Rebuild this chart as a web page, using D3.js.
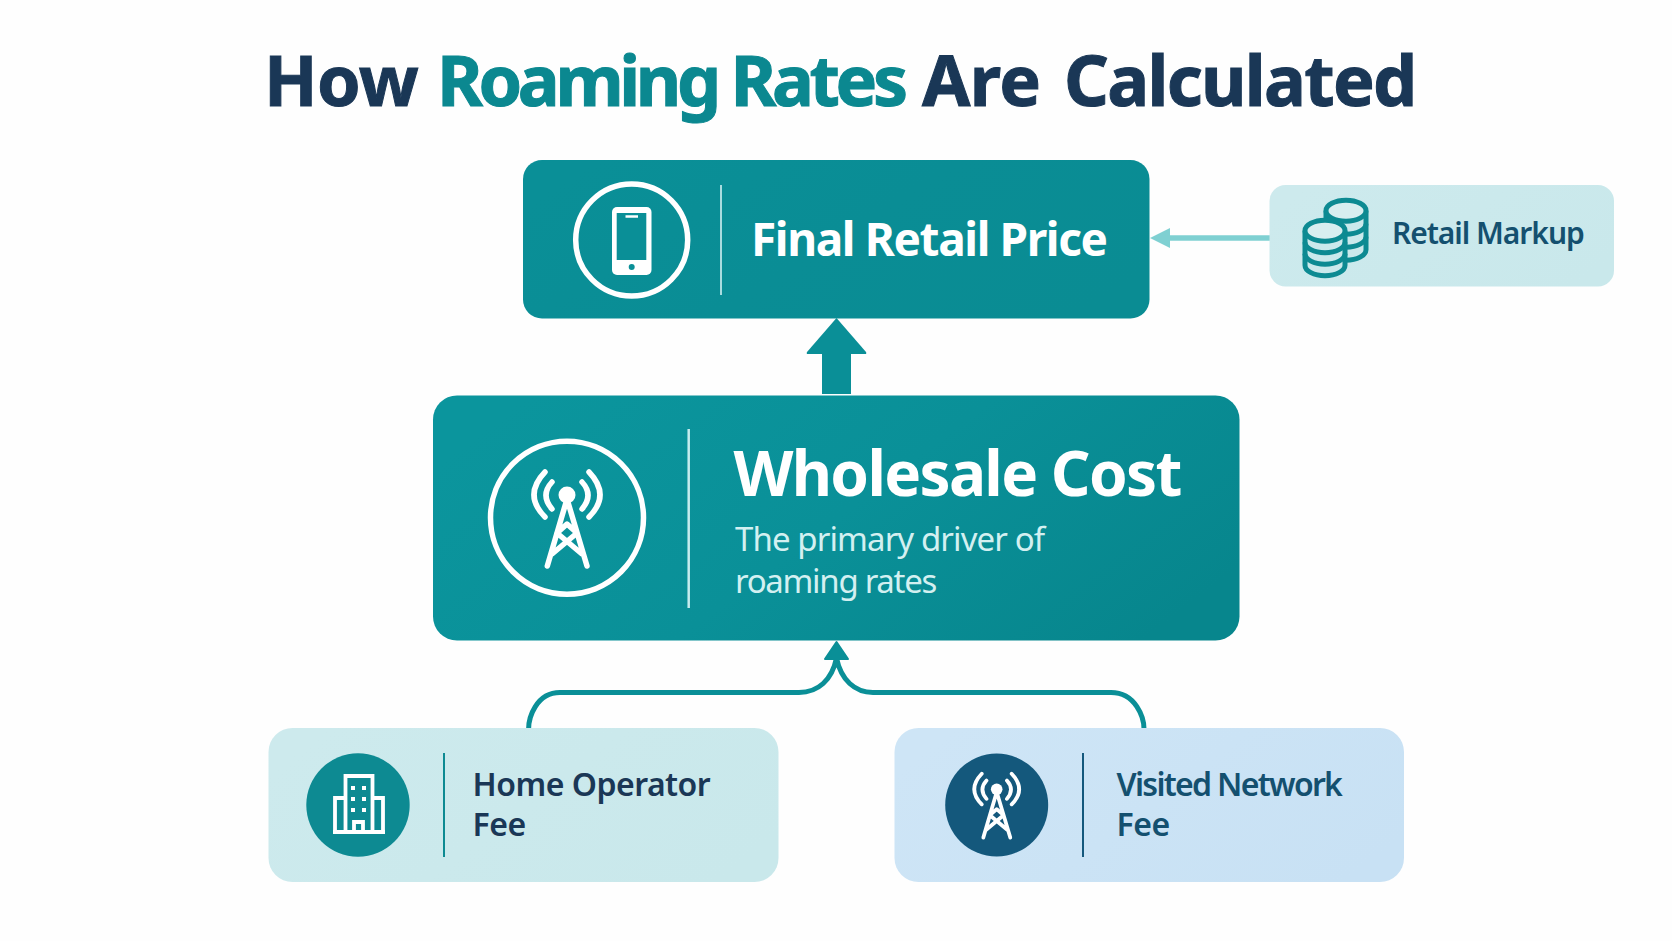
<!DOCTYPE html>
<html>
<head>
<meta charset="utf-8">
<title>How Roaming Rates Are Calculated</title>
<script src="https://cdn.jsdelivr.net/npm/d3@7/dist/d3.min.js"></script>
<style>
  html, body { margin: 0; padding: 0; background: #fefefe; }
  svg { display: block; }
  text { font-family: "Noto Sans", sans-serif; }
</style>
</head>
<body>
<svg id="chart" width="1672" height="941"></svg>
<script>
// Texts
const TITLE_PARTS = ['How', 'Roaming Rates', 'Are', 'Calculated'];
const FINAL_LABEL = ['Final Retail Price'];
const WHOLESALE_LABEL = ['Wholesale Cost'];
const WHOLESALE_NOTE = ['The primary driver of', 'roaming rates'];
const MARKUP_LABEL = ['Retail Markup'];
const HOME_LABEL = ['Home Operator', 'Fee'];
const VISITED_LABEL = ['Visited Network', 'Fee'];

const TEAL = '#0a8f97', TEAL_LIGHT = '#cbe9ec', BLUE_LIGHT = '#cbe3f5';
const NAVY = '#1a3756', DEEP = '#14587c', INK = '#14506f', ARROW_LIGHT = '#7fd0d2';

const svg = d3.select('#chart');
const defs = svg.append('defs');

function gradient(id, stops) {
  const g = defs.append('linearGradient').attr('id', id)
    .attr('x1', 0).attr('y1', 0.3).attr('x2', 1).attr('y2', 0.7);
  stops.forEach((c, i) => g.append('stop')
    .attr('offset', i / (stops.length - 1)).attr('stop-color', c));
}
gradient('boxFinal', ['#0a8f97', '#0a8d95', '#0a8c93']);
gradient('boxWhole', ['#0b959d', '#0a9098', '#07868d']);
gradient('boxMint', ['#cdeaed', '#c9e8eb']);
gradient('boxBlue', ['#cee5f6', '#c8e1f4']);

function box(x0, y0, x1, y1, r, fill) {
  svg.append('rect').attr('x', x0).attr('y', y0)
    .attr('width', x1 - x0).attr('height', y1 - y0)
    .attr('rx', r).attr('fill', fill);
}

function divider(x, y0, y1, color, w) {
  svg.append('line').attr('x1', x).attr('x2', x).attr('y1', y0).attr('y2', y1)
    .attr('stroke', color).attr('stroke-width', w);
}

function lines(list, x, baselines, size, weight, color, spacing) {
  svg.selectAll(null).data(list).enter().append('text')
    .attr('x', x).attr('y', (d, i) => baselines[i])
    .attr('font-size', size).attr('font-weight', weight)
    .attr('letter-spacing', (d, i) => Array.isArray(spacing) ? spacing[i] : spacing)
    .attr('fill', color).text(d => d);
}

// Title
const TITLE_X = [264, 437, 922, 1064];
const TITLE_COLOR = [NAVY, '#0b8890', NAVY, NAVY];
const TITLE_SPACING = [-0.6, -4.4, -0.6, -1.7];
svg.selectAll(null).data(TITLE_PARTS).enter().append('text')
  .attr('x', (d, i) => TITLE_X[i]).attr('y', 106)
  .attr('font-size', 70).attr('font-weight', 700)
  .attr('letter-spacing', (d, i) => TITLE_SPACING[i])
  .attr('stroke', (d, i) => TITLE_COLOR[i]).attr('stroke-width', 1)
  .attr('fill', (d, i) => TITLE_COLOR[i]).text(d => d);

// Arrows first, boxes sit on top of their ends
const arrows = svg.append('g');
arrows.append('rect').attr('x', 822).attr('y', 350).attr('width', 29).attr('height', 44).attr('fill', TEAL);
arrows.append('path').attr('d', 'M836.5,318 L866,352 Q867,354 865,354 L808,354 Q806,354 807,352 Z').attr('fill', TEAL);

arrows.append('line').attr('x1', 1270).attr('x2', 1165).attr('y1', 238).attr('y2', 238)
  .attr('stroke', ARROW_LIGHT).attr('stroke-width', 5.5);
arrows.append('path').attr('d', 'M1150,238 L1170,228 L1170,248 Z').attr('fill', ARROW_LIGHT);

const link = d3.path();
link.moveTo(528.6, 729);
link.bezierCurveTo(528.6, 718, 536, 692.5, 560, 692.5);
link.lineTo(799, 692.5);
link.bezierCurveTo(818, 692.5, 832, 680, 836.5, 658);
link.bezierCurveTo(841, 680, 855, 692.5, 873, 692.5);
link.lineTo(1111, 692.5);
link.bezierCurveTo(1136, 692.5, 1144, 718, 1144, 729);
arrows.append('path').attr('d', link.toString()).attr('fill', 'none')
  .attr('stroke', TEAL).attr('stroke-width', 5);
arrows.append('path').attr('d', 'M836.5,642 L848,659 L825,659 Z').attr('fill', TEAL)
  .attr('stroke', TEAL).attr('stroke-width', 2).attr('stroke-linejoin', 'round');

// Boxes
box(523, 160, 1149.5, 318.5, 19, 'url(#boxFinal)');
box(433, 395.5, 1239.5, 640.5, 24, 'url(#boxWhole)');
box(1269.5, 185, 1614, 286.5, 16, 'url(#boxMint)');
box(268.5, 728, 778.5, 882, 24, 'url(#boxMint)');
box(894.5, 728, 1404, 882, 24, 'url(#boxBlue)');

function tower(cx, cy, k, color) {
  const g = svg.append('g').attr('transform', `translate(${cx},${cy}) scale(${k})`)
    .attr('fill', 'none').attr('stroke', color).attr('stroke-width', 5.5)
    .attr('stroke-linecap', 'round').attr('stroke-linejoin', 'round');
  g.append('path').attr('d', 'M0,-19 L-19.7,48 M0,-19 L20,48 M-10,15 L0,6 L10,15 M-10,15 L15,36 M10,15 L-15,36');
  g.append('path').attr('d', 'M-15,-36 Q-27,-23 -15,-9 M15,-36 Q27,-23 15,-9 M-22,-46 Q-44,-23 -22,-1 M22,-46 Q44,-23 22,-1');
  g.append('circle').attr('cx', 0).attr('cy', -23).attr('r', 8.5).attr('fill', color).attr('stroke', 'none');
}

// Final retail price
svg.append('circle').attr('cx', 631.7).attr('cy', 240).attr('r', 56)
  .attr('fill', 'none').attr('stroke', '#fff').attr('stroke-width', 5.5);
svg.append('rect').attr('x', 612).attr('y', 207).attr('width', 39.5).attr('height', 68).attr('rx', 5).attr('fill', '#fff');
svg.append('rect').attr('x', 616.7).attr('y', 213).attr('width', 29.6).attr('height', 47).attr('fill', TEAL);
svg.append('line').attr('x1', 625.5).attr('x2', 638).attr('y1', 216.5).attr('y2', 216.5).attr('stroke', '#fff').attr('stroke-width', 2.5);
svg.append('circle').attr('cx', 631.7).attr('cy', 267).attr('r', 3).attr('fill', TEAL);
divider(721, 185, 295, '#a9dcdf', 2);
lines(FINAL_LABEL, 751, [255.5], 46, 700, '#fff', -1.4);

// Wholesale cost
svg.append('circle').attr('cx', 567).attr('cy', 517.7).attr('r', 76.5)
  .attr('fill', 'none').attr('stroke', '#fff').attr('stroke-width', 5.5);
tower(567, 518, 1, '#fff');
divider(688.7, 429, 608, '#c6ecee', 2.5);
lines(WHOLESALE_LABEL, 733.5, [496], 62, 700, '#fff', -1.7);
lines(WHOLESALE_NOTE, 735, [551, 592.5], 33, 400, '#d3f0f1', [-0.9, -1.3]);

// Retail markup
const coins = svg.append('g').attr('fill', TEAL_LIGHT).attr('stroke', '#0d8a92').attr('stroke-width', 5);
function stack(cx, cy, rx, ry, step) {
  const b = cy + step * 3;
  coins.append('path').attr('d', `M${cx - rx},${cy} L${cx - rx},${b} A${rx},${ry} 0 0 0 ${cx + rx},${b} L${cx + rx},${cy}`);
  for (let i = 1; i < 3; i++) {
    coins.append('path').attr('fill', 'none')
      .attr('d', `M${cx - rx},${cy + step * i} A${rx},${ry} 0 0 0 ${cx + rx},${cy + step * i}`);
  }
  coins.append('ellipse').attr('cx', cx).attr('cy', cy).attr('rx', rx).attr('ry', ry).attr('fill', '#d8eef0');
}
stack(1346, 210.7, 20, 10.5, 13);
stack(1325, 230.7, 20, 10.5, 11.5);
lines(MARKUP_LABEL, 1392, [244], 30, 600, INK, -1.05);

// Home operator
svg.append('circle').attr('cx', 358).attr('cy', 805).attr('r', 51.7).attr('fill', '#0d8a92');
const building = svg.append('g').attr('transform', 'translate(358,805)')
  .attr('fill', 'none').attr('stroke', '#fff').attr('stroke-width', 3.8);
building.append('path').attr('d', 'M-12.5,27 L-12.5,-29 L14.5,-29 L14.5,27 M-12.5,-7 L-23,-7 L-23,27 M14.5,-7 L25,-7 L25,27 M-25,27 L27,27 M-4,27 L-4,17 L5,17 L5,27');
building.selectAll(null).data([-17, -6, 5]).enter().append('g').each(function (y) {
  d3.select(this).selectAll(null).data([-5, 6]).enter().append('rect')
    .attr('x', x => x - 2).attr('y', y - 2).attr('width', 4).attr('height', 4)
    .attr('fill', '#fff').attr('stroke', 'none');
});
divider(444, 753, 857, '#0d8a92', 2);
lines(HOME_LABEL, 472.5, [796, 836], 32, 600, NAVY, -0.5);

// Visited network
svg.append('circle').attr('cx', 996.7).attr('cy', 805).attr('r', 51.5).attr('fill', DEEP);
tower(996.7, 805, 0.68, '#fff');
divider(1083, 753, 857, DEEP, 2);
lines(VISITED_LABEL, 1116.5, [796, 836], 32, 600, INK, [-1.7, -0.5]);
</script>
</body>
</html>
